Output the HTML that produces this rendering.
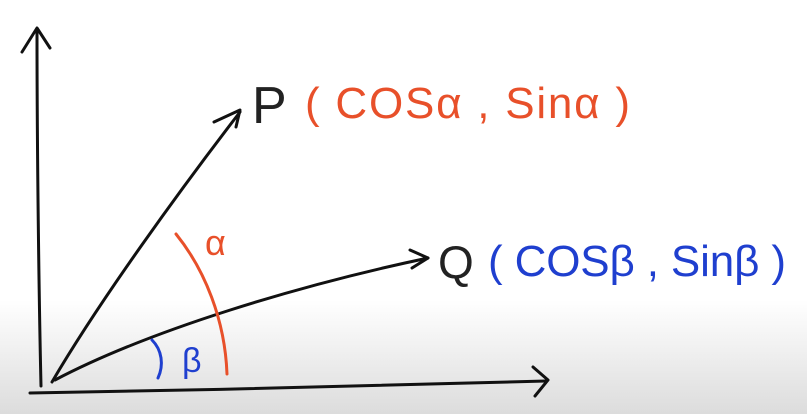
<!DOCTYPE html>
<html><head><meta charset="utf-8"><style>
html,body{margin:0;padding:0;width:807px;height:414px;overflow:hidden}
body{background:linear-gradient(to bottom,#ffffff 0px,#ffffff 300px,#f0f0f0 350px,#dcdcdc 414px)}
svg{position:absolute;left:0;top:0}
text{font-family:"Liberation Sans",sans-serif}
</style></head><body>
<svg width="807" height="414" viewBox="0 0 807 414">
  <g fill="none" stroke="#111" stroke-width="3" stroke-linecap="round" stroke-linejoin="round">
    <path d="M41 386 C39 300 37 150 37 30"/>
    <path d="M22 52 L37 28 L50 48"/>
    <path d="M30 393 C200 390 400 386 546 381"/>
    <path d="M533 367 L548 380 L535 396"/>
    <path d="M52 382 C100 300 180 190 240 112"/>
    <path d="M214 122 L240 110 L236 127"/>
    <path d="M55 380 C150 330 300 285 428 258"/>
    <path d="M410 250 L428 258 L412 268"/>
  </g>
  <path d="M176 234 C205 270 225 320 227 374" fill="none" stroke="#e8502a" stroke-width="3" stroke-linecap="round"/>
  <path d="M152 340 C162 350 164 365 158 378" fill="none" stroke="#1f3fcf" stroke-width="3" stroke-linecap="round"/>
  <text x="252" y="123" font-size="52" fill="#222">P</text>
  <text x="305" y="118" font-size="44" fill="#e8502a" textLength="325" lengthAdjust="spacing">( COSα , Sinα )</text>
  <text x="438" y="278" font-size="46" fill="#222">Q</text>
  <text x="488" y="276" font-size="44" fill="#1f3fcf" textLength="298" lengthAdjust="spacing">( COSβ , Sinβ )</text>
  <text x="205" y="255" font-size="36" fill="#e8502a">α</text>
  <text x="182" y="372" font-size="34" fill="#1f3fcf">β</text>
</svg>
</body></html>
